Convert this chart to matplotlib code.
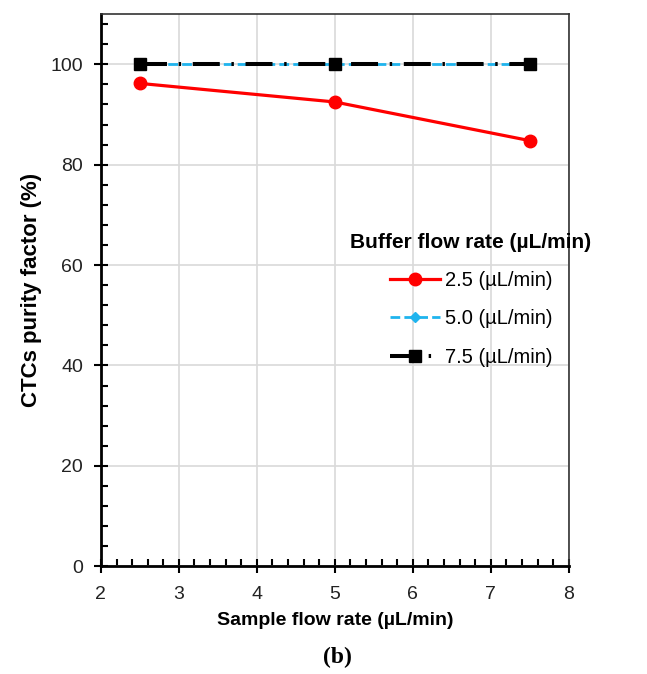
import matplotlib
matplotlib.use("Agg")
import matplotlib.pyplot as plt
from matplotlib.ticker import MultipleLocator

sample_flow = [2.5, 5.0, 7.5]
purity_25 = [96.2, 92.5, 84.8]
purity_50 = [100, 100, 100]
purity_75 = [100, 100, 100]
labels = ["2.5 (µL/min)", "5.0 (µL/min)", "7.5 (µL/min)"]
legend_title = "Buffer flow rate (µL/min)"

plt.rcParams['font.family'] = ['Liberation Sans', 'DejaVu Sans']

fig = plt.figure(figsize=(6.47, 6.74), dpi=100)
ax = fig.add_axes([0.156, 0.160, 0.723, 0.819])

ax.plot(sample_flow, purity_25, color='#ff0000', lw=2.3, marker='o', ms=9, label=labels[0], zorder=3)
ax.plot(sample_flow, purity_50, color='#1fb4ee', lw=2, ls=(0, (3.5, 1.5)), marker='D', ms=5.5, label=labels[1], zorder=4)
ax.plot(sample_flow, purity_75, color='black', lw=2.9, ls=(0, (6.7, 2.9, 0.6, 2.9)), marker='s', ms=8.5, label=labels[2], zorder=5)

ax.set_xlim(2, 8)
ax.set_ylim(0, 110)
ax.set_xticks([2, 3, 4, 5, 6, 7, 8])
ax.set_yticks([0, 20, 40, 60, 80, 100])
ax.xaxis.set_minor_locator(MultipleLocator(0.2))
ax.yaxis.set_minor_locator(MultipleLocator(4))
ax.tick_params(which='major', direction='inout', length=10, width=1.5, labelsize=14, labelcolor='#222222')
ax.tick_params(axis='y', which='major', pad=8)
ax.tick_params(axis='x', which='major', pad=9)
ax.tick_params(which='minor', direction='in', length=5, width=1.5)
ax.grid(True, which='major', color='#d9d9d9', lw=1.2)
ax.set_axisbelow(True)

for side in ['left', 'bottom']:
    ax.spines[side].set_linewidth(2)
for side in ['top', 'right']:
    ax.spines[side].set_linewidth(1.2)
    ax.spines[side].set_color('#333333')

ax.set_xlabel("Sample flow rate (µL/min)", fontsize=14, fontweight='bold', labelpad=7)
ax.set_ylabel("CTCs purity factor (%)", fontsize=16, fontweight='bold', labelpad=6)

leg = ax.legend(title=legend_title, loc='center', bbox_to_anchor=(0.728, 0.555),
                bbox_transform=fig.transFigure,
                frameon=False, fontsize=14.5, title_fontproperties={'weight': 'bold', 'size': 15},
                handlelength=2.5, handletextpad=0.25, labelspacing=0.95)

fig.text(0.522, 0.024, "(b)", ha='center', va='center', fontsize=17, fontweight='bold',
         family=['Liberation Serif', 'DejaVu Serif'])

fig.savefig("out.png", dpi=100)
